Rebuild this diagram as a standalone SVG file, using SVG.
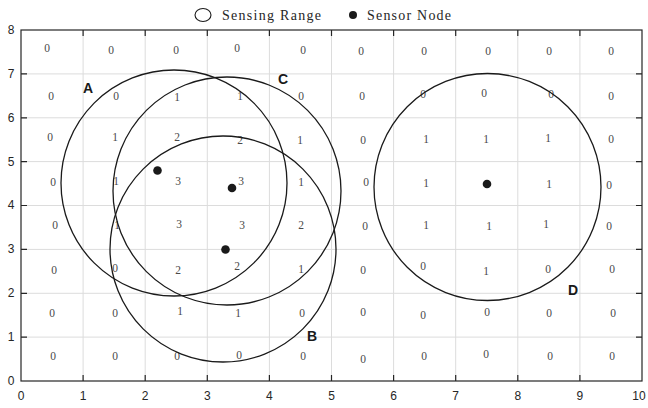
<svg xmlns="http://www.w3.org/2000/svg" width="648" height="408" viewBox="0 0 648 408">
<style>
.grid{stroke:#dcdcdc;stroke-width:1;fill:none}
.axis{stroke:#262626;stroke-width:1.2;fill:none}
.tick{stroke:#262626;stroke-width:1.2}
.tl{font-family:"Liberation Sans",Arial,sans-serif;font-size:12px;fill:#262626;text-anchor:middle}
.n{font-family:"Liberation Serif","Times New Roman",serif;font-size:11.5px;fill:#4a4a4a;text-anchor:middle}
.rng{fill:none;stroke:#1a1a1a;stroke-width:1.3}
.dot{fill:#1a1a1a}
.lbl{font-family:"Liberation Sans",Arial,sans-serif;font-size:14px;font-weight:bold;fill:#1a1a1a;text-anchor:middle}
.leg{font-family:"Liberation Serif","Times New Roman",serif;font-size:14px;fill:#262626}
</style>
<rect width="648" height="408" fill="#fff"/>
<g id="grid">
<path class="grid" d="M83.1 30V381M145.2 30V381M207.3 30V381M269.4 30V381M331.5 30V381M393.6 30V381M455.7 30V381M517.8 30V381M579.9 30V381M21 337.1H642M21 293.3H642M21 249.4H642M21 205.5H642M21 161.6H642M21 117.8H642M21 73.9H642"/>
</g>
<g id="axes">
<rect class="axis" x="21" y="30" width="621" height="351"/>
<path class="tick" d="M83.1 381v-6M145.2 381v-6M207.3 381v-6M269.4 381v-6M331.5 381v-6M393.6 381v-6M455.7 381v-6M517.8 381v-6M579.9 381v-6M83.1 30v6M145.2 30v6M207.3 30v6M269.4 30v6M331.5 30v6M393.6 30v6M455.7 30v6M517.8 30v6M579.9 30v6M21 337.1h6M21 293.3h6M21 249.4h6M21 205.5h6M21 161.6h6M21 117.8h6M21 73.9h6M642 337.1h-6M642 293.3h-6M642 249.4h-6M642 205.5h-6M642 161.6h-6M642 117.8h-6M642 73.9h-6"/>
<g class="tl">
<text x="21" y="400">0</text><text x="83.1" y="400">1</text><text x="145.2" y="400">2</text><text x="207.3" y="400">3</text><text x="269.4" y="400">4</text><text x="331.5" y="400">5</text><text x="393.6" y="400">6</text><text x="455.7" y="400">7</text><text x="517.8" y="400">8</text><text x="579.9" y="400">9</text><text x="639" y="400">10</text>
<text x="11" y="385">0</text><text x="11" y="341">1</text><text x="11" y="297">2</text><text x="11" y="253">3</text><text x="11" y="209">4</text><text x="11" y="166">5</text><text x="11" y="122">6</text><text x="11" y="78">7</text><text x="11" y="34">8</text>
</g>
</g>
<g id="cell-values" class="n">
<text x="47" y="52">0</text><text x="111" y="54">0</text><text x="176" y="54">0</text><text x="237" y="52">0</text><text x="303" y="54">0</text><text x="361" y="55">0</text><text x="424" y="55">0</text><text x="488" y="55">0</text><text x="549" y="55">0</text><text x="611" y="55">0</text>
<text x="51" y="100">0</text><text x="116" y="100">0</text><text x="177" y="101">1</text><text x="240" y="100">1</text><text x="301" y="100">0</text><text x="362" y="100">0</text><text x="423" y="98">0</text><text x="484" y="97">0</text><text x="551" y="98">0</text><text x="611" y="100">0</text>
<text x="50" y="141">0</text><text x="115" y="141">1</text><text x="177" y="141">2</text><text x="240" y="144">2</text><text x="300" y="144">1</text><text x="363" y="144">0</text><text x="426" y="143">1</text><text x="486" y="143">1</text><text x="548" y="142">1</text><text x="611" y="143">0</text>
<text x="53" y="186">0</text><text x="116" y="185">1</text><text x="178" y="185">3</text><text x="241" y="185">3</text><text x="301" y="186">1</text><text x="366" y="186">0</text><text x="426" y="187">1</text><text x="487" y="188">1</text><text x="549" y="188">1</text><text x="609" y="189">0</text>
<text x="55" y="229">0</text><text x="117" y="229">1</text><text x="179" y="228">3</text><text x="242" y="229">3</text><text x="301" y="229">2</text><text x="365" y="230">0</text><text x="426" y="229">1</text><text x="489" y="230">1</text><text x="546" y="228">1</text><text x="609" y="230">0</text>
<text x="54" y="274">0</text><text x="115" y="272">0</text><text x="178" y="274">2</text><text x="237" y="270">2</text><text x="301" y="273">1</text><text x="363" y="274">0</text><text x="423" y="270">0</text><text x="486" y="275">1</text><text x="548" y="273">0</text><text x="612" y="273">0</text>
<text x="52" y="317">0</text><text x="115" y="317">0</text><text x="180" y="315">1</text><text x="238" y="317">1</text><text x="302" y="317">0</text><text x="363" y="316">0</text><text x="423" y="319">0</text><text x="487" y="316">0</text><text x="549" y="317">0</text><text x="613" y="317">0</text>
<text x="53" y="360">0</text><text x="115" y="360">0</text><text x="177" y="360">0</text><text x="239" y="359">0</text><text x="303" y="360">0</text><text x="363" y="363">0</text><text x="424" y="360">0</text><text x="486" y="358">0</text><text x="550" y="360">0</text><text x="612" y="360">0</text>
</g>
<g id="sensor-A">
<circle class="rng" cx="174" cy="183" r="113"/>
<circle class="dot" cx="157.5" cy="170.5" r="4.3"/>
<text class="lbl" x="88" y="93">A</text>
</g>
<g id="sensor-C">
<circle class="rng" cx="227" cy="191" r="114"/>
<circle class="dot" cx="232" cy="188" r="4.3"/>
<text class="lbl" x="283" y="84">C</text>
</g>
<g id="sensor-B">
<circle class="rng" cx="223" cy="249" r="113"/>
<circle class="dot" cx="225.5" cy="249.5" r="4.3"/>
<text class="lbl" x="312" y="341">B</text>
</g>
<g id="sensor-D">
<circle class="rng" cx="487.5" cy="187" r="113.5"/>
<circle class="dot" cx="487" cy="184" r="4.3"/>
<text class="lbl" x="573" y="295">D</text>
</g>
<g id="legend">
<ellipse cx="203" cy="15" rx="8" ry="6.5" fill="none" stroke="#1a1a1a" stroke-width="1.1"/>
<text class="leg" x="222" y="20" textLength="99">Sensing Range</text>
<circle class="dot" cx="353" cy="15" r="4"/>
<text class="leg" x="367" y="20" textLength="84">Sensor Node</text>
</g>
</svg>
